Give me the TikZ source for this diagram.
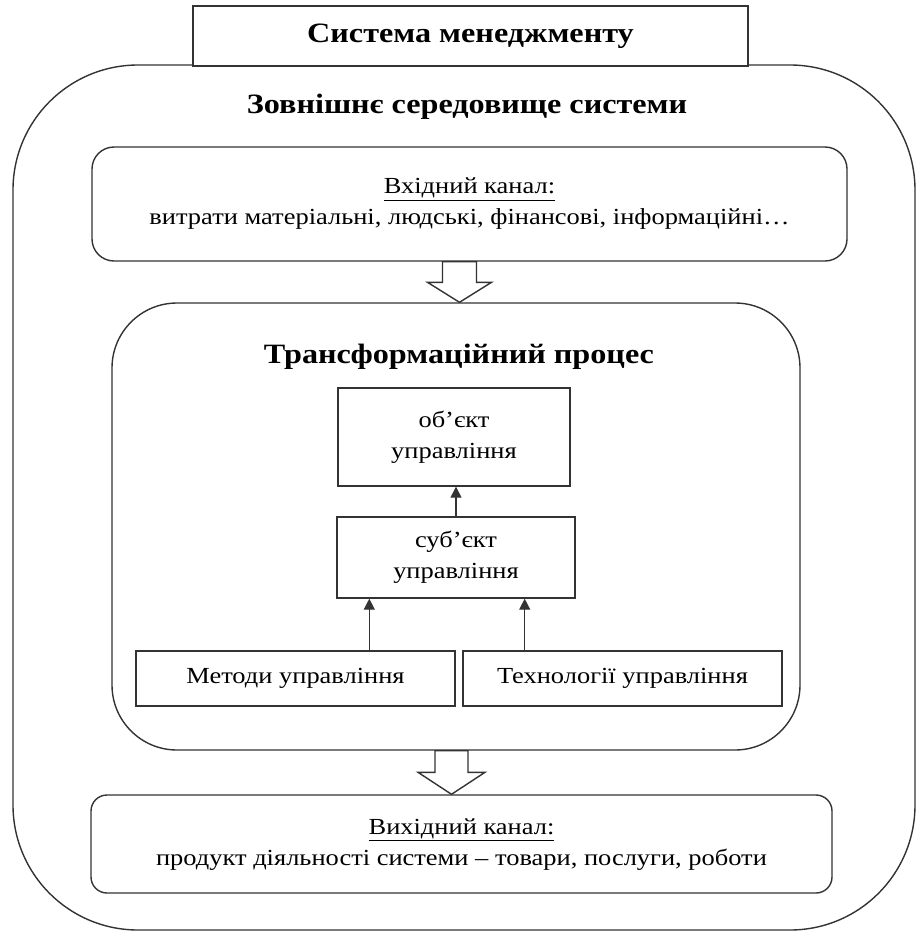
\documentclass[tikz,border=0pt]{standalone}
\usepackage{fontspec}
\setmainfont{Liberation Serif}[FakeStretch=1.15]
\usetikzlibrary{arrows.meta,calc}
\colorlet{linegray}{black!80}

\begin{document}
\begin{tikzpicture}[x=1pt, y=-1pt, line width=1.4pt,
    every node/.style={font=\fontsize{23}{31}\selectfont, align=center, inner sep=0pt},
    head/.style={font=\fontsize{28}{32}\selectfont\bfseries},
    plain box/.style={draw=linegray, rectangle},
    round box/.style={draw=linegray, rounded corners=#1},
    flow/.style={draw=linegray, -{Triangle[length=11pt,width=11pt]}},
    hollow/.style={draw=linegray, fill=white, line join=miter}]
  \useasboundingbox (0,0) rectangle (917,932);
  \node[round box=125, minimum width=902, minimum height=865] (outer) at (464,497.5) {};
  \node[plain box, fill=white, minimum width=555, minimum height=60, head] (title) at (470.5,36) {Система менеджменту};
  \node[head] (env) at (467,107) {Зовнішнє середовище системи};
  \node[round box=22, minimum width=755, minimum height=114] (input) at (469.5,204)
    {\underline{Вхідний канал:}\\витрати матеріальні, людські, фінансові, інформаційні…};
  \node[round box=65, minimum width=688, minimum height=447] (transform) at (456,526.5) {};
  \node[head] (trlabel) at (459,357) {Трансформаційний процес};
  \node[plain box, minimum width=232, minimum height=98] (object) at (454,437) {об’єкт\\управління};
  \node[plain box, minimum width=238, minimum height=81] (subject) at (456,557.5) {суб’єкт\\управління};
  \node[plain box, minimum width=319, minimum height=55] (methods) at (295.5,678.5) {Методи управління};
  \node[plain box, minimum width=319, minimum height=55] (techs) at (622.5,678.5) {Технології управління};
  \node[round box=16, minimum width=741, minimum height=98, text depth=4pt] (output) at (461.5,844)
    {\underline{Вихідний канал:}\\продукт діяльності системи – товари, послуги, роботи};

  \draw[flow] (subject.north) -- (subject.north |- object.south);
  \draw[flow] ([xshift=33pt]subject.south west |- methods.north) -- ([xshift=33pt]subject.south west);
  \draw[flow] ([xshift=-51pt]subject.south east |- techs.north) -- ([xshift=-51pt]subject.south east);

  \path (transform.north) ++(3.5,0) coordinate (tipin);
  \draw[hollow] ($(tipin |- input.south)+(-17,0)$) -- ($(tipin)+(-17,-20)$) -- ($(tipin)+(-32,-20)$)
    -- (tipin) -- ($(tipin)+(32,-20)$) -- ($(tipin)+(17,-20)$) -- ($(tipin |- input.south)+(17,0)$) -- cycle;
  \path (output.north) ++(-10,0) coordinate (tipout);
  \draw[hollow] ($(tipout |- transform.south)+(-16.5,0)$) -- ($(tipout)+(-16.5,-22)$) -- ($(tipout)+(-33.5,-22)$)
    -- (tipout) -- ($(tipout)+(33.5,-22)$) -- ($(tipout)+(16.5,-22)$) -- ($(tipout |- transform.south)+(16.5,0)$) -- cycle;
\end{tikzpicture}
\end{document}
